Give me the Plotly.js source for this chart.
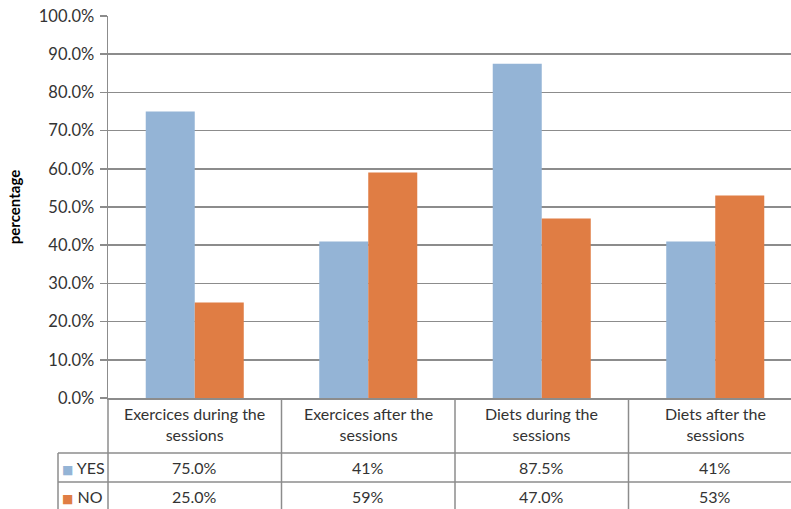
<!DOCTYPE html>
<html>
<head>
<meta charset="utf-8">
<script src="https://cdn.plot.ly/plotly-3.0.1.min.js"></script>
<style>html,body{margin:0;padding:0;background:#fff;}#chart{width:791px;height:509px;}</style>
</head>
<body>
<div id="chart"></div>
<script>
// ---- data ----
const categories = ["Exercices during the<br>sessions", "Exercices after the<br>sessions", "Diets during the<br>sessions", "Diets after the<br>sessions"];
const seriesNames = ["YES", "NO"];
const yesValues = [0.75, 0.41, 0.875, 0.41];
const noValues = [0.25, 0.59, 0.47, 0.53];
const yesLabels = ["75.0%", "41%", "87.5%", "41%"];
const noLabels = ["25.0%", "59%", "47.0%", "53%"];

// ---- style ----
const colors = ["#94B4D6", "#E07D44"];
const gridColor = "#8c8c8c";
const textColor = "#333333";
const font = "Lato, 'Open Sans', sans-serif";

// pixel helpers (plot: left 108, right 791, top 16, bottom 398)
const PL = 108, PR = 791, PT = 16, PB = 398;
const py = p => (PB - p) / (PB - PT);
const px = p => (p - PL) / (PR - PL);

const xIdx = categories.map((_, i) => i);

const traces = [
  { type: "bar", x: xIdx, y: yesValues, name: seriesNames[0], marker: { color: colors[0] }, hoverinfo: "none" },
  { type: "bar", x: xIdx, y: noValues, name: seriesNames[1], marker: { color: colors[1] }, hoverinfo: "none" }
];

const lineStyle = { color: gridColor, width: 1.5 };
const shapes = [];
[453, 482].forEach(p => shapes.push({ type: "line", xref: "paper", yref: "paper", x0: px(58), x1: 1.02, y0: py(p), y1: py(p), line: lineStyle }));
shapes.push({ type: "line", xref: "paper", yref: "paper", x0: px(58), x1: px(58), y0: py(453), y1: py(515), line: lineStyle });
shapes.push({ type: "line", xref: "paper", yref: "paper", x0: 0, x1: 0, y0: 0, y1: py(515), line: lineStyle });
for (let i = 0; i < categories.length; i++) {
  shapes.push({ type: "line", xref: "x", yref: "paper", x0: i + 0.5, x1: i + 0.5, y0: 0, y1: py(515), line: lineStyle });
}

const annotations = [];
const baseFont = { family: font, size: 16, color: textColor };
categories.forEach((c, i) => {
  annotations.push({ xref: "x", yref: "paper", x: i, y: py(424), text: c, showarrow: false, font: baseFont, xanchor: "center", yanchor: "middle" });
  annotations.push({ xref: "x", yref: "paper", x: i, y: py(467), text: yesLabels[i], showarrow: false, font: baseFont, xanchor: "center", yanchor: "middle" });
  annotations.push({ xref: "x", yref: "paper", x: i, y: py(496), text: noLabels[i], showarrow: false, font: baseFont, xanchor: "center", yanchor: "middle" });
});
[[seriesNames[0], 467, colors[0]], [seriesNames[1], 496, colors[1]]].forEach(([n, p, c]) => {
  annotations.push({ xref: "paper", yref: "paper", x: px(60), y: py(p), text: '<span style="color:' + c + ';font-family:DejaVu Sans;font-size:12px">■</span> ' + n, showarrow: false, font: baseFont, xanchor: "left", yanchor: "middle" });
});

const layout = {
  width: 791, height: 509,
  margin: { l: PL, r: 0, t: PT, b: 509 - PB, pad: 0 },
  paper_bgcolor: "#fff", plot_bgcolor: "#fff",
  showlegend: false,
  barmode: "group", bargap: 0.435, bargroupgap: 0,
  font: { family: font, size: 16, color: textColor },
  xaxis: {
    range: [-0.5, -0.5 + (PR - PL) / 173.5],
    showticklabels: false, showgrid: false, zeroline: false,
    showline: true, linecolor: gridColor, linewidth: 1.5, ticks: "", fixedrange: true
  },
  yaxis: {
    range: [0, 1], dtick: 0.1, tick0: 0, tickformat: ".1%",
    showgrid: true, gridcolor: gridColor, gridwidth: 1.5,
    showline: true, linecolor: gridColor, linewidth: 1.5,
    ticks: "outside", ticklen: 7, tickcolor: gridColor, tickwidth: 1.5,
    ticklabelstandoff: 2,
    zeroline: false,
    tickfont: { family: font, size: 16.5, color: textColor },
    title: { text: "<b>percentage</b>", font: { family: font, size: 15, color: "#000" }, standoff: 14 },
    fixedrange: true
  },
  shapes: shapes,
  annotations: annotations
};

Plotly.newPlot("chart", traces, layout, { displayModeBar: false, staticPlot: true });
</script>
</body>
</html>
